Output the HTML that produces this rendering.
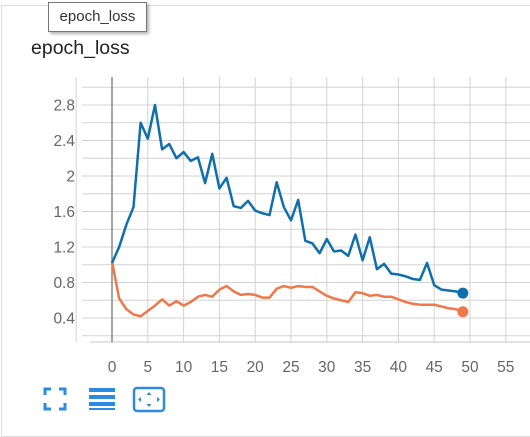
<!DOCTYPE html>
<html><head><meta charset="utf-8"><style>
body{margin:0;width:530px;height:420px;background:#fff;overflow:hidden;font-family:"Liberation Sans",sans-serif;position:relative}
.card{position:absolute;left:1px;top:5px;width:540px;height:430px;border:1px solid #ddd}
.tip{position:absolute;left:48px;top:2px;width:97px;height:28px;border:1px solid #777;background:#fff;box-shadow:2px 2px 3px rgba(0,0,0,.3);font-size:15px;color:#333;line-height:28px;text-align:center}
.title{position:absolute;left:31px;top:37px;font-size:19.5px;color:#222}
</style></head><body>
<div class="card"></div>
<div class="title">epoch_loss</div>
<div class="tip">epoch_loss</div>
<svg id="chart" width="530" height="420" style="position:absolute;left:0;top:0"></svg>
<script>
const xTicks=[0,5,10,15,20,25,30,35,40,45,50,55];
const yTicks=[0.4,0.8,1.2,1.6,2,2.4,2.8];
const yTickLabels=["0.4","0.8","1.2","1.6","2","2.4","2.8"];
const trainLoss=[1.02,1.2,1.45,1.65,2.6,2.42,2.8,2.3,2.36,2.2,2.27,2.17,2.21,1.92,2.25,1.86,1.98,1.66,1.64,1.72,1.61,1.58,1.56,1.93,1.65,1.5,1.73,1.27,1.24,1.13,1.29,1.15,1.16,1.1,1.34,1.05,1.31,0.95,1.01,0.9,0.89,0.87,0.84,0.83,1.02,0.77,0.72,0.71,0.7,0.68];
const valLoss=[1.04,0.62,0.5,0.44,0.42,0.48,0.54,0.61,0.54,0.59,0.54,0.58,0.64,0.66,0.64,0.72,0.76,0.7,0.66,0.67,0.66,0.63,0.63,0.73,0.76,0.74,0.76,0.75,0.75,0.7,0.65,0.62,0.6,0.58,0.69,0.68,0.65,0.66,0.64,0.64,0.61,0.58,0.56,0.55,0.55,0.55,0.53,0.51,0.5,0.47];
const svg=document.getElementById('chart');const NS='http://www.w3.org/2000/svg';
const X=v=>112+v*7.16, Y=v=>105+(2.8-v)*88.75;
function mk(t,a){const e=document.createElementNS(NS,t);for(const k in a)e.setAttribute(k,a[k]);svg.appendChild(e);return e;}
for(let v=0.2;v<=3.01;v+=0.2){const l=mk('line',{x1:82,x2:530,y1:Y(v),y2:Y(v),stroke:'#d3d3d3','stroke-width':1});

}
for(let v=-5;v<=55;v+=5){const l=mk('line',{x1:X(v),x2:X(v),y1:77,y2:342,stroke:'#d3d3d3','stroke-width':1});

}
const ax=mk('line',{x1:90,x2:530,y1:342,y2:342,stroke:'#c8c8c8'});


const z=mk('line',{x1:X(0),x2:X(0),y1:77,y2:342,stroke:'#888','stroke-width':1.5});


yTicks.forEach((v,i)=>{const t=mk('text',{x:75,y:Y(v)+5.5,'text-anchor':'end','font-size':15.5,fill:'#666'});t.textContent=yTickLabels[i];

});
xTicks.forEach(v=>{const t=mk('text',{x:X(v),y:372,'text-anchor':'middle','font-size':15.5,fill:'#666'});t.textContent=String(v);

});
function series(d,c,name){const p=mk('polyline',{points:d.map((v,i)=>X(i)+','+Y(v)).join(' '),fill:'none',stroke:c,'stroke-width':2.5,'stroke-linejoin':'round'});


const n=d.length-1;const c2=mk('circle',{cx:X(n),cy:Y(d[n]),r:5.5,fill:c});

}
series(valLoss,'#f0774a','validation');
series(trainLoss,'#0f6fab','train');
const g1=mk('path',{d:'M45 395v-6h6M59 389h6v6M65 403v6h-6M51 409h-6v-6',fill:'none',stroke:'#2b8be0','stroke-width':3});


const g2=mk('g',{fill:'#2b8be0'});


[388,395,402,408].forEach((y,i)=>{const r=document.createElementNS(NS,'rect');r.setAttribute('x',89);r.setAttribute('y',y);r.setAttribute('width',26);r.setAttribute('height',i==3?2:4);g2.appendChild(r);});
const g3=mk('g',{});


g3.innerHTML='<rect x="134" y="388" width="30" height="23" rx="3" fill="none" stroke="#2b8be0" stroke-width="2.5"/><path d="M149 392l-2.5 3h5zM149 407l-2.5 -3h5zM138 399.5l3 -2.5v5zM160 399.5l-3 -2.5v5z" fill="#2b8be0"/>';
</script>
</body></html>
